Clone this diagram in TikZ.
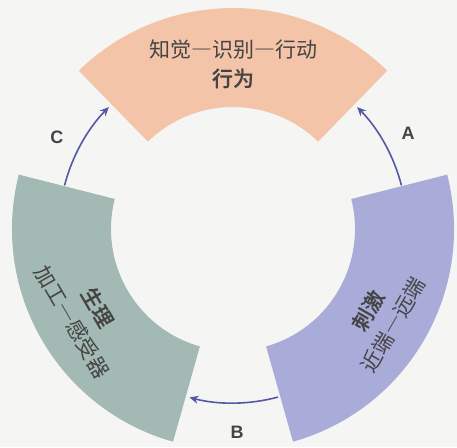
\documentclass[tikz,border=0pt]{standalone}
\usepackage{fontspec}
\setmainfont{Noto Sans CJK SC}
\newfontfamily\cjkmed{Noto Sans CJK SC Medium}[UprightFeatures={FakeBold=0.3}]
\newfontfamily\latinb{Liberation Sans}
\newcommand{\fdash}{{\addfontfeature{CharacterWidth=Full}—}}
\usetikzlibrary{arrows.meta}
\definecolor{bg}{HTML}{F5F5F3}
\definecolor{peach}{HTML}{F3C4A8}
\definecolor{lav}{HTML}{A9ABD8}
\definecolor{sage}{HTML}{A3B9B3}
\definecolor{arrowc}{HTML}{5558A6}
\definecolor{txt}{HTML}{444444}
\begin{document}
\begin{tikzpicture}[x=1pt,y=1pt,
  sectortext/.style={text=txt,align=center,font=\fontsize{21}{29}\selectfont},
  flow/.style={draw=arrowc,line width=1.6pt,-{Stealth[length=9pt,width=8pt]}},
  letter/.style={text=txt,font=\latinb\bfseries\fontsize{18}{18}\selectfont}]
\useasboundingbox (-233,-218) rectangle (224,229);
\fill[bg] (-233,-218) rectangle (224,229);
\begin{scope}
\clip (-233,-218) rectangle (224,229);
% top sector
\fill[peach] (45.75:221) arc[start angle=45.75,end angle=134.25,radius=221]
  -- (134.25:122) arc[start angle=134.25,end angle=45.75,radius=122] -- cycle;
% right sector
\fill[lav] (-74.25:221) arc[start angle=-74.25,end angle=14.25,radius=221]
  -- (14.25:122) arc[start angle=14.25,end angle=-74.25,radius=122] -- cycle;
% left sector
\fill[sage] (165.75:221) arc[start angle=165.75,end angle=254.25,radius=221]
  -- (254.25:122) arc[start angle=254.25,end angle=165.75,radius=122] -- cycle;
\end{scope}
% texts
\node[sectortext] (top) at (0,165) {知觉\fdash 识别\fdash 行动\\{\cjkmed 行为}};
\node[sectortext,rotate=60] (right) at (-31:172) {{\cjkmed 刺激}\\近端\fdash 远端};
\node[sectortext,rotate=-60] (left) at (210:171) {{\cjkmed 生理}\\加工\fdash 感受器};
% connectors
\coordinate (As) at (14.5:174);
\coordinate (Bs) at (-75:174);
\coordinate (Cs) at (165.5:174);
\draw[flow] (As) arc[start angle=14.5,end angle=44.5,radius=174];
\draw[flow] (Bs) arc[start angle=-75,end angle=-104.5,radius=174];
\draw[flow] (Cs) arc[start angle=165.5,end angle=135.5,radius=174];
\node[letter] (A) at (175,96) {A};
\node[letter] (B) at (4,-203) {B};
\node[letter] (C) at (-176,92) {C};
\end{tikzpicture}
\end{document}
